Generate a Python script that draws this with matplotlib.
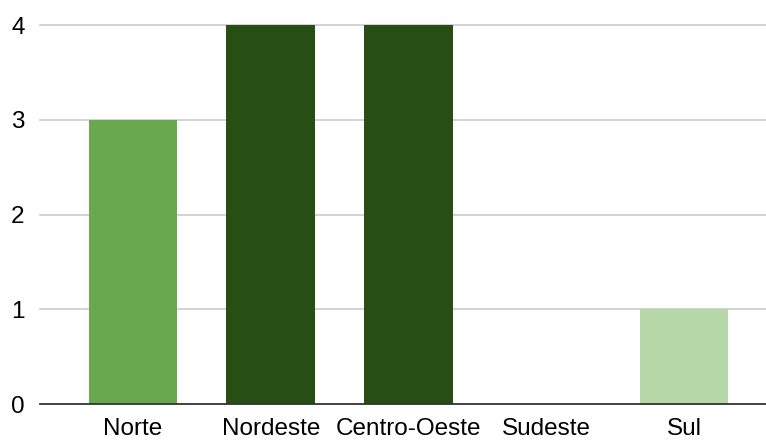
import matplotlib
matplotlib.use("Agg")
import matplotlib.pyplot as plt

categories = ["Norte", "Nordeste", "Centro-Oeste", "Sudeste", "Sul"]
values = [3, 4, 4, 0, 1]
colors = ["#6aa84f", "#274e13", "#274e13", "#274e13", "#b6d7a8"]
yticks = [0, 1, 2, 3, 4]

plt.rcParams['font.family'] = ['Liberation Sans', 'DejaVu Sans']

W, H = 766, 440
fig = plt.figure(figsize=(W / 100, H / 100), dpi=100)
ax = fig.add_axes([40 / W, 1 - 404 / H, (766 - 40) / W, (404 - 25) / H])

x = list(range(len(categories)))
ax.bar(x, values, width=0.643, color=colors, zorder=2)

ax.set_ylim(0, 4)
ax.set_xlim(-0.675, 4.595)
ax.set_yticks(yticks)
for t in yticks[1:]:
    ax.axhline(t, color="#cccccc", lw=1.2, zorder=1, clip_on=False)
ax.axhline(0, color="#333333", lw=1.3, zorder=3, clip_on=False)

ax.set_xticks(x)
ax.set_xticklabels(categories)
ax.tick_params(axis="both", length=0, labelsize=17.5, colors="black")
ax.tick_params(axis="x", pad=10)
ax.tick_params(axis="y", pad=11)
for s in ax.spines.values():
    s.set_visible(False)

fig.savefig("out.png", dpi=100, facecolor="white")
